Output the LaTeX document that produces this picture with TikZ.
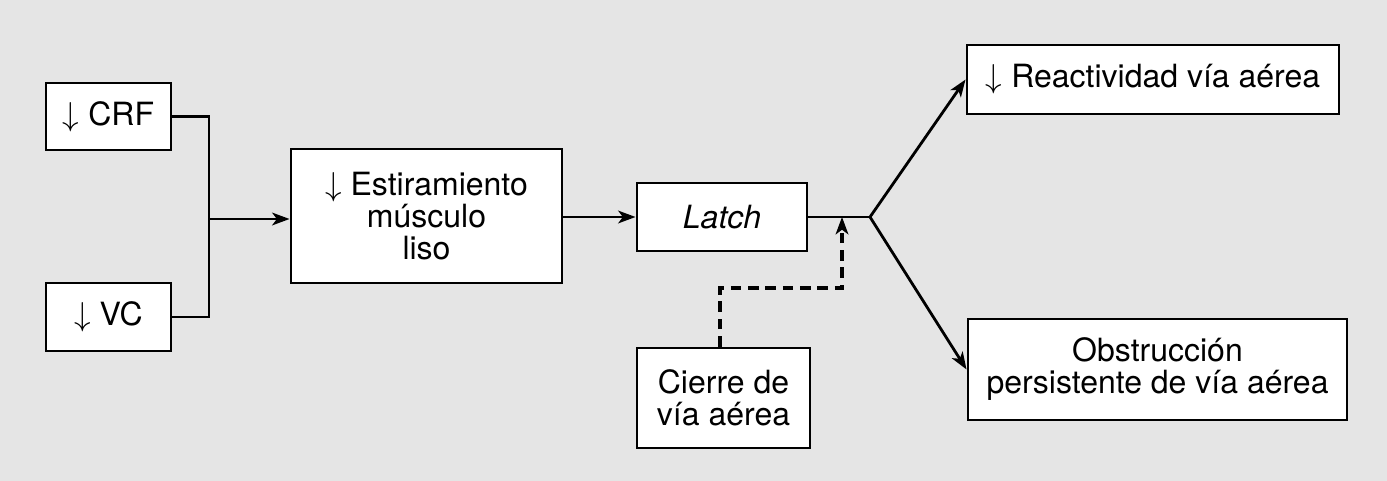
\documentclass[tikz,border=0pt]{standalone}
\usepackage{fontspec}
\setmainfont{TeX Gyre Heros}
\usetikzlibrary{arrows.meta}
\definecolor{bg}{HTML}{E5E5E5}
\tikzset{
  box/.style={draw=black, fill=white, line width=2.2pt, align=center, inner sep=0pt,
    font=\fontsize{24}{24}\selectfont},
  conn/.style={line width=2.1pt},
  arr/.style={conn, -{Stealth[length=13pt,width=9.5pt,inset=3.5pt]}}
}
\begin{document}
\begin{tikzpicture}[x=0.75pt,y=-0.75pt]
\fill[bg] (0,0) rectangle (1387,481);
\useasboundingbox (0,0) rectangle (1387,481);
\node[box, minimum width=125*0.75pt, minimum height=67*0.75pt] (crf) at (108.5,116.5) {$\downarrow$ CRF};
\node[box, minimum width=125*0.75pt, minimum height=68*0.75pt] (vc) at (108.5,317) {$\downarrow$ VC};
\node[box, minimum width=271*0.75pt, minimum height=134*0.75pt] (est) at (426.5,216) {$\downarrow$ Estiramiento\\músculo\\liso};
\node[box, minimum width=170*0.75pt, minimum height=68*0.75pt] (latch) at (722,217) {\itshape Latch};
\node[box, minimum width=173*0.75pt, minimum height=100*0.75pt] (cierre) at (723.5,398) {Cierre de\\vía aérea};
\node[box, minimum width=372*0.75pt, minimum height=69*0.75pt] (reac) at (1153,79.5) {$\downarrow$ Reactividad vía aérea};
\node[box, minimum width=379*0.75pt, minimum height=101*0.75pt] (obs) at (1157.5,369.5) {Obstrucción\\persistente de vía aérea};
\coordinate (j1) at (209,219);
\coordinate (j2) at (870,217);
\coordinate (jd) at (842,217);
\draw[conn] (crf.east) -| (j1) |- (vc.east);
\draw[arr] (j1) -- (j1 -| est.west);
\draw[arr] (est.east |- latch) -- (latch.west);
\draw[conn] (latch.east) -- (j2);
\draw[arr] (j2) -- (reac.west);
\draw[arr] (j2) -- (obs.west);
\draw[arr, line width=2.3pt, dashed, dash pattern=on 8pt off 5pt] (cierre.north -| 720,0) |- (842,288) -- (jd);
\end{tikzpicture}
\end{document}
